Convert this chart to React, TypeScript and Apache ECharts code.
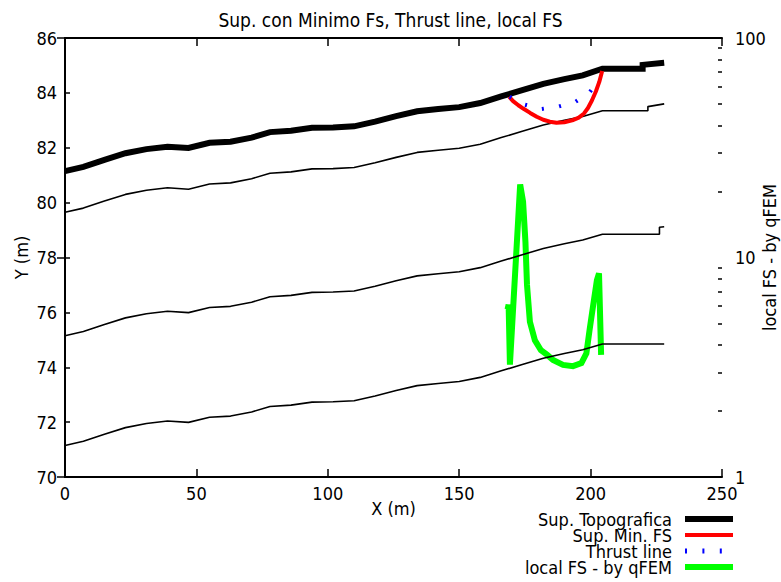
import React, { useEffect, useRef } from "react";
import * as echarts from "echarts";

const FONT = "'DejaVu Sans Condensed', 'DejaVu Sans', sans-serif";

const titleText = "Sup. con Minimo Fs, Thrust line, local FS";
const xName = "X (m)";
const yName = "Y (m)";
const y2Name = "local FS - by qFEM";
const legendNames = ["Sup. Topografica", "Sup. Min. FS", "Thrust line", "local FS - by qFEM"];

// Topography (thick black)
const topoX = [0, 7, 15, 23, 31, 39, 47, 55, 63, 71, 78, 86, 94, 102, 110, 118, 126, 134, 142, 150, 158, 166, 174, 182, 190, 197, 204.5, 219.8, 219.8, 228];
const topoY = [81.15, 81.3, 81.56, 81.8, 81.95, 82.04, 81.99, 82.18, 82.22, 82.37, 82.57, 82.62, 82.73, 82.74, 82.78, 82.95, 83.15, 83.33, 83.41, 83.48, 83.63, 83.87, 84.1, 84.33, 84.5, 84.64, 84.88, 84.88, 85.02, 85.1];

// Layer 1 (thin black)
const layer1X = [0, 7, 15, 23, 31, 39, 47, 55, 63, 71, 78, 86, 94, 102, 110, 118, 126, 134, 142, 150, 158, 166, 174, 182, 190, 197, 204.5, 221.8, 221.8, 228];
const layer1Y = [79.65, 79.8, 80.06, 80.3, 80.45, 80.54, 80.49, 80.68, 80.72, 80.87, 81.07, 81.12, 81.23, 81.24, 81.28, 81.45, 81.65, 81.83, 81.91, 81.98, 82.13, 82.37, 82.6, 82.83, 83.0, 83.14, 83.35, 83.35, 83.5, 83.6];

// Layer 2 (thin black)
const layer2X = [0, 7, 15, 23, 31, 39, 47, 55, 63, 71, 78, 86, 94, 102, 110, 118, 126, 134, 142, 150, 158, 166, 174, 182, 190, 197, 204.5, 226.2, 226.2, 228];
const layer2Y = [75.15, 75.3, 75.56, 75.8, 75.95, 76.04, 75.99, 76.18, 76.22, 76.37, 76.57, 76.62, 76.73, 76.74, 76.78, 76.95, 77.15, 77.33, 77.41, 77.48, 77.63, 77.87, 78.1, 78.33, 78.5, 78.64, 78.85, 78.85, 79.1, 79.12];

// Layer 3 (thin black)
const layer3X = [0, 7, 15, 23, 31, 39, 47, 55, 63, 71, 78, 86, 94, 102, 110, 118, 126, 134, 142, 150, 158, 166, 174, 182, 190, 197, 204.5, 228];
const layer3Y = [71.15, 71.3, 71.56, 71.8, 71.95, 72.04, 71.99, 72.18, 72.22, 72.37, 72.57, 72.62, 72.73, 72.74, 72.78, 72.95, 73.15, 73.33, 73.41, 73.48, 73.63, 73.87, 74.1, 74.33, 74.5, 74.64, 74.85, 74.85];

// Minimum FS slip surface (red)
const slipX = [169, 170.5, 172.5, 174.5, 177, 179.5, 182, 184.5, 187, 190, 193, 195.5, 197.5, 199, 200.5, 202, 203.3, 204.4];
const slipY = [83.86, 83.7, 83.55, 83.42, 83.27, 83.13, 83.02, 82.95, 82.91, 82.93, 83.0, 83.1, 83.25, 83.45, 83.72, 84.05, 84.4, 84.8];

// Thrust line (blue dotted)
const thrustX = [169.2, 174.6, 181, 187.8, 194.2, 199.6, 203.7];
const thrustY = [83.86, 83.58, 83.41, 83.5, 83.67, 84.02, 84.53];

// Local FS (green, right log axis)
const fsX = [168.4, 168.8, 169.3, 173.2, 174.3, 175.2, 175.8, 176.9, 178.8, 181.1, 183.5, 185.7, 189.5, 193.3, 196.5, 198.4, 199.6, 200.9, 202.4, 203.2, 204.0];
const fsY = [5.8, 6.1, 3.25, 21.5, 18, 11.8, 7.5, 5.1, 4.2, 3.78, 3.6, 3.41, 3.24, 3.2, 3.3, 3.66, 4.67, 5.97, 7.89, 8.47, 3.6];

const rightMinorTicks = [2, 3, 4, 5, 6, 7, 8, 9, 20, 30, 40, 50, 60, 70, 80, 90];
const rightMajorTicks = [1, 10, 100];

const pair = (xs: number[], ys: number[]) => xs.map((x, i) => [x, ys[i]]);

export default function App() {
  const ref = useRef<HTMLDivElement>(null);
  useEffect(() => {
    if (!ref.current) return;
    const chart = echarts.init(ref.current, null, { renderer: "svg" });
    const axisLine = { show: true, lineStyle: { color: "#000", width: 2 } };
    const labelStyle = { color: "#000", fontFamily: FONT, fontSize: 18 };
    const thinLine = (name: string, xs: number[], ys: number[]) => ({
      type: "line",
      name,
      xAxisIndex: 0,
      yAxisIndex: 0,
      data: pair(xs, ys),
      showSymbol: false,
      symbol: "none",
      lineStyle: { color: "#000", width: 1.6 },
      z: 3,
    });
    const legendY = [519, 535, 551, 567];
    const option: any = {
      animation: false,
      title: {
        text: titleText,
        left: "center",
        top: 5,
        textStyle: { color: "#000", fontFamily: FONT, fontSize: 19, fontWeight: "normal" },
      },
      grid: { left: 65, right: 59, top: 38, bottom: 105, containLabel: false, outerBoundsMode: "none" },
      xAxis: [
        {
          type: "value",
          min: 0,
          max: 250,
          interval: 50,
          position: "bottom",
          name: xName,
          nameLocation: "middle",
          nameGap: 22,
          nameMoveOverlap: false,
          nameTextStyle: labelStyle,
          axisLine,
          axisTick: { show: true, inside: true, length: 8, lineStyle: { color: "#000", width: 1.5 } },
          axisLabel: { ...labelStyle, margin: 7 },
          splitLine: { show: false },
        },
        {
          type: "value",
          min: 0,
          max: 250,
          interval: 50,
          position: "top",
          axisLine,
          axisTick: { show: true, inside: true, length: 8, lineStyle: { color: "#000", width: 1.5 } },
          axisLabel: { show: false },
          splitLine: { show: false },
        },
      ],
      yAxis: [
        {
          type: "value",
          min: 70,
          max: 86,
          interval: 2,
          position: "left",
          name: yName,
          nameLocation: "middle",
          nameGap: 35,
          nameMoveOverlap: false,
          nameTextStyle: labelStyle,
          axisLine,
          axisTick: { show: true, inside: true, length: 5, lineStyle: { color: "#000", width: 1.5 } },
          axisLabel: { ...labelStyle, margin: 8 },
          splitLine: { show: false },
        },
        {
          type: "log",
          logBase: 10,
          min: 1,
          max: 100,
          position: "right",
          name: y2Name,
          nameLocation: "middle",
          nameGap: 38,
          nameRotate: 90,
          nameMoveOverlap: false,
          nameTextStyle: labelStyle,
          axisLine,
          axisTick: {
            show: true,
            inside: true,
            length: 8,
            customValues: rightMajorTicks,
            lineStyle: { color: "#000", width: 1.5 },
          },
          axisLabel: { ...labelStyle, margin: 13 },
          splitLine: { show: false },
        },
        {
          type: "log",
          logBase: 10,
          min: 1,
          max: 100,
          position: "right",
          axisLine: { show: false },
          axisTick: {
            show: true,
            inside: true,
            length: 4,
            customValues: rightMinorTicks,
            lineStyle: { color: "#000", width: 1.5 },
          },
          axisLabel: { show: false },
          splitLine: { show: false },
        },
      ],
      series: [
        {
          type: "line",
          name: legendNames[3],
          xAxisIndex: 0,
          yAxisIndex: 1,
          data: pair(fsX, fsY),
          showSymbol: false,
          symbol: "none",
          lineStyle: { color: "#00ff00", width: 6, join: "miter", miterLimit: 10 },
          z: 2,
        },
        thinLine("layer1", layer1X, layer1Y),
        thinLine("layer2", layer2X, layer2Y),
        thinLine("layer3", layer3X, layer3Y),
        {
          type: "line",
          name: legendNames[0],
          xAxisIndex: 0,
          yAxisIndex: 0,
          data: pair(topoX, topoY),
          showSymbol: false,
          symbol: "none",
          lineStyle: { color: "#000", width: 6, join: "miter" },
          z: 4,
        },
        {
          type: "line",
          name: legendNames[1],
          xAxisIndex: 0,
          yAxisIndex: 0,
          data: pair(slipX, slipY),
          showSymbol: false,
          symbol: "none",
          lineStyle: { color: "#ff0000", width: 4 },
          z: 5,
        },
        {
          type: "line",
          name: legendNames[2],
          xAxisIndex: 0,
          yAxisIndex: 0,
          data: pair(thrustX, thrustY),
          showSymbol: false,
          symbol: "none",
          lineStyle: { color: "#0000ff", width: 4, type: [2, 15.4] },
          z: 6,
        },
      ],
      graphic: [
        ...legendNames.map((t, i) => ({
          type: "text",
          x: 672,
          y: legendY[i],
          style: {
            text: t,
            textAlign: "right",
            textVerticalAlign: "middle",
            fill: "#000",
            font: `18px ${FONT}`,
            lineHeight: 16,
          },
        })),
        { type: "line", shape: { x1: 685, y1: legendY[0], x2: 733, y2: legendY[0] }, style: { stroke: "#000", lineWidth: 6 } },
        { type: "line", shape: { x1: 685, y1: legendY[1], x2: 733, y2: legendY[1] }, style: { stroke: "#ff0000", lineWidth: 4 } },
        { type: "line", shape: { x1: 685, y1: legendY[2], x2: 733, y2: legendY[2] }, style: { stroke: "#0000ff", lineWidth: 5, lineDash: [2, 15.4] } },
        { type: "line", shape: { x1: 685, y1: legendY[3], x2: 733, y2: legendY[3] }, style: { stroke: "#00ff00", lineWidth: 6 } },
      ],
    };
    chart.setOption(option);
    return () => chart.dispose();
  }, []);
  return <div ref={ref} style={{ width: 781, height: 582, position: "absolute", left: 0, top: 0 }} />;
}
